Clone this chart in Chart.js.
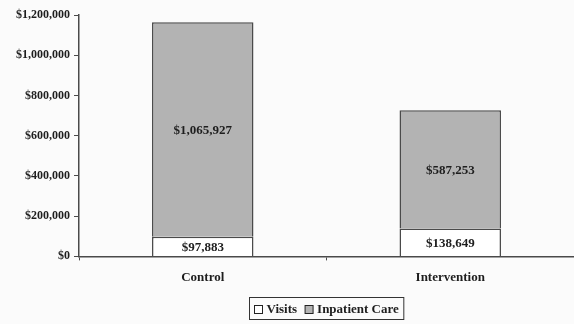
<!DOCTYPE html>
<html>
<head>
<meta charset="utf-8">
<script src="https://cdn.jsdelivr.net/npm/chart.js@4/dist/chart.umd.min.js"></script>
<style>
  html, body { margin: 0; padding: 0; background: #fbfbfb; }
  #wrap { width: 574px; height: 324px; }
</style>
</head>
<body>
<div id="wrap"><canvas id="myChart"></canvas></div>
<script>
// data
let groups = ['Control', 'Intervention']
let visits = [97883, 138649]
let inpatient = [1065927, 587253]
let yTicks = [0, 200000, 400000, 600000, 800000, 1000000, 1200000]

let serif = '"Liberation Serif", "Times New Roman", serif'
let ink = '#1e1e1e'
let edge = '#4a4a4a'

let money = (v) => '$' + v.toLocaleString('en-US')

//labels inside the bar segments
let barText = {
  id: 'barText',
  afterDatasetsDraw(chart) {
    let ctx = chart.ctx
    ctx.save()
    ctx.font = 'bold 13px ' + serif
    ctx.fillStyle = ink
    ctx.textAlign = 'center'
    ctx.textBaseline = 'middle'
    chart.data.datasets.forEach((ds, i) => {
      chart.getDatasetMeta(i).data.forEach((bar, j) => {
        let mid = (bar.y + bar.base) / 2
        ctx.fillText(money(ds.data[j]), bar.x, mid + 1)
      })
    })
    ctx.restore()
  }
}

//legend in a frame, centred under the plot area (built-in one is off)
let boxLegend = {
  id: 'boxLegend',
  afterDraw(chart) {
    let ctx = chart.ctx
    let area = chart.chartArea
    ctx.save()
    ctx.font = 'bold 13px ' + serif
    let box = 8, gap = 4, between = 8, pad = 5
    let items = chart.data.datasets.map((ds) => ({
      text: ds.label,
      fill: ds.backgroundColor,
      w: box + gap + ctx.measureText(ds.label).width
    }))
    let total = items.reduce((a, it) => a + it.w, 0) + between * (items.length - 1)
    let fw = total + pad * 2, fh = 22
    let fx = Math.round((area.left + area.right) / 2 - fw / 2) + 0.5
    let fy = chart.height - 26.5
    ctx.strokeStyle = '#333'
    ctx.lineWidth = 1
    ctx.strokeRect(fx, fy, fw, fh)
    let x = fx + pad
    let cy = fy + fh / 2
    items.forEach((it) => {
      ctx.fillStyle = it.fill
      ctx.fillRect(x, Math.round(cy - box / 2) + 0.5, box, box)
      ctx.strokeStyle = '#222'
      ctx.strokeRect(x, Math.round(cy - box / 2) + 0.5, box, box)
      ctx.fillStyle = ink
      ctx.textBaseline = 'middle'
      ctx.fillText(it.text, x + box + gap, cy + 1)
      x += it.w + between
    })
    ctx.restore()
  }
}

let data = {
  labels: groups,
  datasets: [
    {
      label: 'Visits',
      data: visits,
      backgroundColor: '#ffffff',
      borderColor: edge,
      borderWidth: 1.5,
      barPercentage: 0.41,
      categoryPercentage: 1
    },
    {
      label: 'Inpatient Care',
      data: inpatient,
      backgroundColor: '#b3b3b3',
      borderColor: edge,
      borderWidth: 1.5,
      barPercentage: 0.41,
      categoryPercentage: 1
    }
  ]
}

let config = {
  type: 'bar',
  data: data,
  plugins: [barText, boxLegend],
  options: {
    responsive: true,
    maintainAspectRatio: false,
    animation: false,
    layout: { padding: { top: 15, right: 0, bottom: 30, left: 0 } },
    plugins: {
      tooltip: { enabled: false },
      legend: { display: false }
    },
    scales: {
      x: {
        stacked: true,
        grid: { drawOnChartArea: false, color: edge, tickLength: 4, offset: true },
        border: { color: edge, width: 1.5 },
        ticks: {
          font: { family: serif, size: 13, weight: 'bold' },
          color: ink,
          padding: 9
        }
      },
      y: {
        stacked: true,
        min: 0,
        max: 1200000,
        afterBuildTicks: (s) => { s.ticks = yTicks.map((v) => ({ value: v })) },
        afterFit: (s) => { s.width = 79 },
        grid: { drawOnChartArea: false, color: edge, tickLength: 5 },
        border: { color: edge, width: 1.5 },
        ticks: {
          font: { family: serif, size: 12, weight: 'bold' },
          color: ink,
          padding: 4,
          callback: (v) => money(v)
        }
      }
    }
  }
}

let chart = new Chart(document.getElementById('myChart').getContext('2d'), config)
</script>
</body>
</html>
